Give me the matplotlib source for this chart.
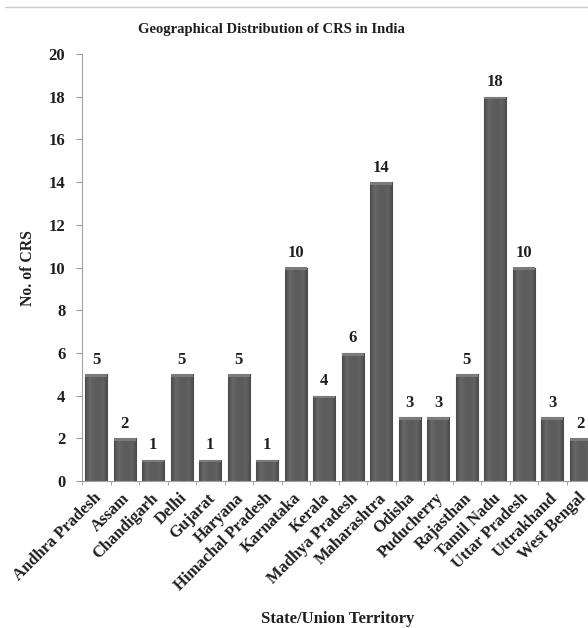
import matplotlib
matplotlib.use("Agg")
import matplotlib.pyplot as plt
from matplotlib.lines import Line2D
from matplotlib.colors import LinearSegmentedColormap
from matplotlib.transforms import ScaledTranslation
import numpy as np

states = ["Andhra Pradesh", "Assam", "Chandigarh", "Delhi", "Gujarat", "Haryana",
          "Himachal Pradesh", "Karnataka", "Kerala", "Madhya Pradesh", "Maharashtra",
          "Odisha", "Puducherry", "Rajasthan", "Tamil Nadu", "Uttar Pradesh",
          "Uttrakhand", "West Bengal"]
crs_counts = [5, 2, 1, 5, 1, 5, 1, 10, 4, 6, 14, 3, 3, 5, 18, 10, 3, 2]
y_ticks = [0, 2, 4, 6, 8, 10, 12, 14, 16, 18, 20]

plt.rcParams["font.family"] = ["Liberation Serif", "DejaVu Serif"]
plt.rcParams["font.weight"] = "bold"

W, H = 588, 628
fig = plt.figure(figsize=(W / 100, H / 100), dpi=100)
fig.patch.set_facecolor("white")

# axes run slightly past the right edge of the figure
left, right, top, bottom = 82, 595, 54, 481
ax = fig.add_axes([left / W, 1 - bottom / H, (right - left) / W, (bottom - top) / H])

x = np.arange(len(states))
bars = ax.bar(x, crs_counts, width=0.78, color="#5e5e5e", edgecolor="#777777",
              linewidth=0.8, zorder=2)

# bevelled shading: dark sides, lighter inner column, soft rim at the top
shade = LinearSegmentedColormap.from_list(
    "bevel", ["#4a4a4a", "#686868", "#5d5d5d", "#5b5b5b", "#626262", "#4a4a4a"])
grad = np.linspace(0, 1, 64).reshape(1, -1)
for b in bars:
    x0, y0 = b.get_x(), b.get_y()
    w, h = b.get_width(), b.get_height()
    im = ax.imshow(grad, cmap=shade, aspect="auto", extent=(x0, x0 + w, y0, y0 + h),
                   zorder=2.1, interpolation="bilinear")
    im.set_clip_path(b)
    ax.bar(x0 + w / 2, 0.13, width=w, bottom=h - 0.13, color="#7b7b7b",
           edgecolor="none", zorder=2.2)

for xi, v in zip(x, crs_counts):
    ax.text(xi, v + 0.3, str(v), ha="center", va="bottom", fontsize=12,
            fontweight="bold", color="#1e1e1e")

ax.set_xlim(-0.5, len(states) - 0.5)
ax.set_ylim(0, 20)
ax.set_yticks(y_ticks)
ax.set_yticklabels([str(t) for t in y_ticks], fontsize=12, fontweight="bold", color="#1e1e1e")

# category names, slanted under each bar
ax.set_xticks([])
label_tf = ax.get_xaxis_transform() + ScaledTranslation(-3 / 100, -9 / 100, fig.dpi_scale_trans)
for xi, name in zip(x, states):
    ax.text(xi, 0, name, transform=label_tf, rotation=45, ha="right", va="top",
            rotation_mode="anchor", fontsize=12, fontweight="bold", color="#1e1e1e")

ax.set_xticks(np.arange(len(states) + 1) - 0.5, minor=True)
ax.tick_params(axis="x", which="minor", length=3, color="#999999", direction="out")
ax.tick_params(axis="y", length=4, color="#999999", pad=8)

for side in ["top", "right"]:
    ax.spines[side].set_visible(False)
for side in ["left", "bottom"]:
    ax.spines[side].set_color("#a0a0a0")
    ax.spines[side].set_linewidth(0.8)

fig.text(271 / W, 1 - 29 / H, "Geographical Distribution of CRS in India",
         ha="center", va="center", fontsize=10.5, fontweight="bold", color="#1e1e1e")
fig.text(28 / W, 1 - 268 / H, "No. of CRS", rotation=90, ha="center", va="center",
         fontsize=11.3, fontweight="bold", color="#1e1e1e")
fig.text(338 / W, 1 - 619 / H, "State/Union Territory", ha="center", va="center",
         fontsize=12, fontweight="bold", color="#1e1e1e")

fig.add_artist(Line2D([5 / W, 1], [1 - 7 / H, 1 - 7 / H], transform=fig.transFigure,
                      color="#cfcfcf", linewidth=1))

fig.savefig("out.png", dpi=100)
